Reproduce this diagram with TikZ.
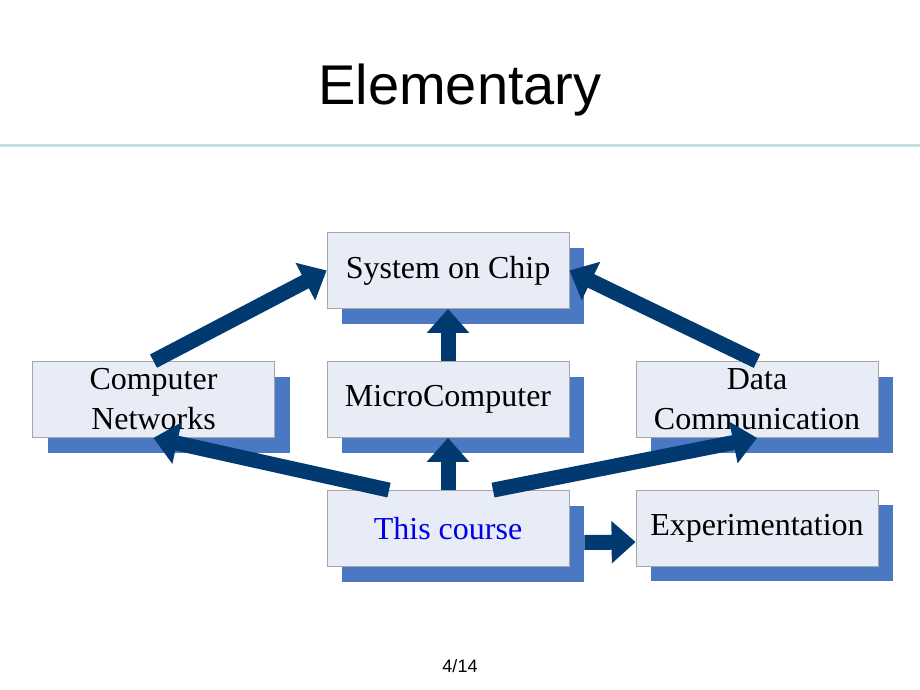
\documentclass[tikz,border=0pt]{standalone}
\usepackage{fontspec}
\setmainfont{Liberation Serif}
\newfontfamily\titlefont{Liberation Sans}
\usetikzlibrary{arrows.meta,shadows}
\definecolor{boxfill}{HTML}{E8ECF7}
\definecolor{boxline}{HTML}{A6A6A6}
\definecolor{shadowc}{HTML}{4A78C2}
\definecolor{arrowc}{HTML}{003A70}
\definecolor{rulec}{HTML}{C2DEE3}
\definecolor{coursec}{HTML}{0000E6}
\begin{document}
\begin{tikzpicture}[x=1pt,y=-1pt,
  box/.style={draw=boxline, line width=0.8pt, fill=boxfill,
    minimum width=242pt, minimum height=76pt, inner sep=0pt,
    font=\fontsize{32}{40}\selectfont, align=center,
    drop shadow={shadow xshift=15pt, shadow yshift=-15pt, fill=shadowc, opacity=1, draw=none}},
  bigarrow/.style={draw=arrowc, line width=15pt, -{Triangle[width=41pt,length=24pt]}},
  rulestyle/.style={draw=rulec, line width=3pt}]
\useasboundingbox[fill=white] (0,0) rectangle (920,690);
% title and rule
\node[font=\titlefont\fontsize{56}{60}\selectfont, anchor=base] (title) at (460,105) {Elementary};
\coordinate (rl) at (0,145.5);
\coordinate (rr) at (920,145.5);
\draw[rulestyle] (rl) -- (rr);
\node[font=\titlefont\fontsize{18}{20}\selectfont, anchor=base] (page) at (460,672) {4/14};
% boxes
\node[box] (soc) at (448,270.5) {System on Chip};
\node[box] (cn) at (153.5,399.5) {Computer\\Networks};
\node[box] (mc) at (448,399.5) {MicroComputer};
\node[box] (dc) at (757,399.5) {Data\\Communication};
\node[box, text=coursec] (tc) at (448,528.5) {This course};
\node[box] (ex) at (757,528) {Experimentation};
% arrows
\draw[bigarrow] (cn.north) -- (soc.west);
\draw[bigarrow] (dc.north) -- (soc.east);
\draw[bigarrow] (mc.north) -- (soc.south);
\draw[bigarrow] (tc.north) -- (mc.south);
\draw[bigarrow] ([shift={(-59,0)}]tc.north) -- (cn.south);
\draw[bigarrow] ([shift={(45,0)}]tc.north) -- (dc.south);
\draw[bigarrow] ([shift={(15,14)}]tc.east) -- ([shift={(0,14)}]ex.west);
\end{tikzpicture}
\end{document}
